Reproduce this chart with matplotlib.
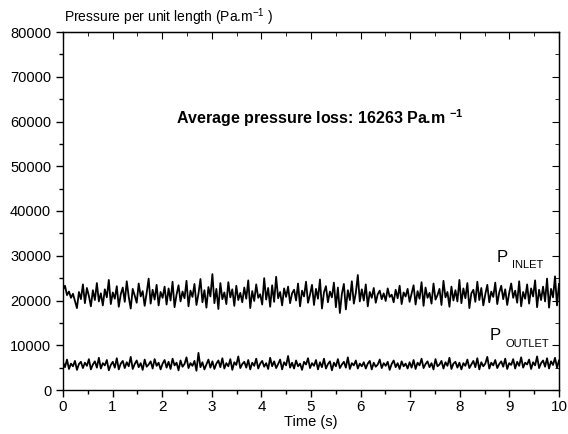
import numpy as np
import matplotlib
matplotlib.use("Agg")
import matplotlib.pyplot as plt

plt.rcParams["font.family"] = ["Liberation Sans", "DejaVu Sans"]
plt.rcParams["mathtext.fontset"] = "custom"
plt.rcParams["mathtext.rm"] = "Liberation Sans"
plt.rcParams["mathtext.bf"] = "Liberation Sans:bold"

# Pressure per unit length (Pa/m), sampled over 10 s
p_inlet = [
    22400, 23300, 21200, 22000, 20600, 21500, 19900, 18300, 21900, 20300, 23600, 19400, 22800, 21000, 18700, 22300, 20100, 23900, 19800, 21600, 18900, 22500, 20700, 24600, 19200,
    21800, 20400, 23200, 18600, 21400, 22900, 19700, 24300, 20800, 18200, 22600, 21100, 19500, 23800, 20900, 22100, 18800, 21700, 24900, 19300, 22400, 20200, 23500, 18900, 21900,
    20600, 23100, 19100, 22700, 20000, 24200, 18500, 21300, 23400, 19800, 22000, 20500, 24400, 18700, 22200, 20800, 23700, 19000, 21500, 24800, 19600, 22300, 18400, 23000, 20900,
    25900, 19400, 22600, 18100, 23900, 20300, 21800, 19200, 24100, 20700, 22500, 18800, 23300, 20100, 21700, 19600, 22900, 20400, 24500, 18300, 22100, 19900, 23600, 20600, 21400,
    19100, 25000, 20200, 22800, 18600, 23400, 19700, 25300, 20500, 21900, 18900, 22700, 20800, 23100, 19400, 21600, 22400, 20000, 23800, 18700, 22200, 20900, 24200, 19500, 21300,
    23500, 19000, 22600, 20400, 24700, 18200, 21800, 23200, 19600, 22000, 20700, 24000, 18500, 22900, 17200, 21500, 23700, 18000, 22300, 20100, 24300, 19300, 21700, 25700, 19800,
    22500, 20000, 23600, 18700, 21900, 20600, 22800, 19500, 21400, 22200, 20300, 21600, 19900, 22700, 20800, 21300, 19600, 22400, 20500, 23300, 19200, 21800, 20900, 22600, 19700,
    21500, 23400, 19100, 22100, 20400, 24100, 18800, 22900, 20600, 21700, 19300, 23800, 20200, 21200, 22600, 19000, 24400, 20700, 21900, 18600, 23100, 20000, 22300, 19800, 24600,
    19400, 22700, 20500, 23900, 18300, 21600, 22400, 19700, 24200, 20100, 22800, 18900, 21400, 23500, 19600, 22000, 20800, 24000, 19200, 21800, 23300, 20300, 22500, 19000, 21700,
    23800, 20600, 22200, 19500, 24300, 18700, 21900, 20400, 23600, 19300, 22700, 20900, 24500, 18500, 22400, 20100, 23100, 19800, 24900, 18400, 22600, 20700, 25400, 18900, 23700,
]
p_outlet = [
    6200, 5100, 6800, 4700, 5900, 5300, 6500, 4500, 5800, 6300, 4900, 6100, 5400, 6900, 4600, 5700, 6400, 5000, 7200, 4800, 6000, 5500, 6700, 4400, 5600,
    6300, 5000, 7100, 4600, 5900, 6500, 4900, 6200, 5300, 7400, 4700, 5800, 6600, 5100, 6000, 4500, 6800, 5200, 5700, 6400, 4800, 6900, 5400, 6100, 4600,
    5900, 6700, 5000, 6300, 4700, 7000, 5500, 6100, 4400, 6600, 5200, 5800, 7300, 4900, 6000, 5400, 6500, 4300, 8300, 5100, 6200, 4600, 5700, 6800, 5000,
    6400, 4700, 5900, 6600, 5100, 7100, 4800, 6000, 5300, 6900, 4500, 6200, 5600, 7500, 4900, 5800, 6300, 5000, 6700, 4600, 6100, 5400, 7000, 4800, 5900,
    6500, 5200, 6000, 4700, 7200, 5300, 6400, 4900, 5800, 6800, 4600, 6200, 5500, 7600, 5000, 6100, 4800, 6600, 5300, 5900, 4500, 6300, 5700, 7100, 4900,
    6000, 5400, 6700, 4600, 6200, 5100, 7000, 4800, 5800, 6400, 4400, 6100, 5300, 6900, 4900, 5700, 6300, 5000, 7300, 4700, 6000, 5500, 6600, 4800, 5900,
    5300, 6200, 4800, 5900, 6500, 4600, 6100, 5200, 5700, 6800, 4900, 6000, 5400, 6300, 4500, 5800, 6600, 5100, 6000, 4700, 6400, 5300, 5900, 4800, 6200,
    5000, 6700, 4700, 6100, 5500, 7000, 4900, 5800, 6400, 5100, 6000, 4600, 6900, 5300, 5700, 6500, 4800, 6200, 5400, 7200, 4700, 5900, 6300, 5000, 6100,
    4600, 6000, 5400, 6800, 4900, 5700, 6500, 5100, 7100, 4600, 6200, 5300, 5900, 7400, 4800, 6100, 5500, 6700, 4900, 5800, 6400, 5200, 7000, 4700, 6000,
    5600, 6900, 4800, 6300, 5400, 7300, 5000, 6100, 5700, 6800, 4700, 6200, 5500, 7500, 4900, 6000, 6600, 5200, 7100, 4800, 6400, 5600, 7200, 5000, 6600,
]
avg_loss = 16263

t_in = np.linspace(0, 10, len(p_inlet))
t_out = np.linspace(0, 10, len(p_outlet))

fig = plt.figure(figsize=(5.68, 4.34), dpi=100)
ax = fig.add_axes([63 / 568, 44 / 434, 496 / 568, 358 / 434])

ax.plot(t_in, p_inlet, color="black", lw=1.3)
ax.plot(t_out, p_outlet, color="black", lw=1.3)

ax.set_xlim(0, 10)
ax.set_ylim(0, 80000)
ax.set_xticks(np.arange(0, 11, 1))
ax.set_xticks(np.arange(0.5, 10, 1), minor=True)
ax.set_yticks(np.arange(0, 80001, 10000))
ax.set_yticks(np.arange(5000, 80000, 10000), minor=True)
ax.tick_params(which="both", direction="out", width=1)
ax.tick_params(axis="y", labelsize=10.5)
ax.tick_params(axis="x", labelsize=11, pad=2)
ax.tick_params(which="major", length=5)
ax.tick_params(which="minor", length=3)
for s in ax.spines.values():
    s.set_linewidth(1)

# mirrored ticks pointing inward on top and right
top = ax.secondary_xaxis("top")
top.set_xticks(np.arange(0, 11, 1))
top.set_xticks(np.arange(0.5, 10, 1), minor=True)
top.tick_params(which="both", direction="in", labeltop=False)
top.tick_params(which="major", length=5)
top.tick_params(which="minor", length=3)
right = ax.secondary_yaxis("right")
right.set_yticks(np.arange(0, 80001, 10000))
right.set_yticks(np.arange(5000, 80000, 10000), minor=True)
right.tick_params(which="both", direction="in", labelright=False)
right.tick_params(which="major", length=5)
right.tick_params(which="minor", length=3)

ax.set_xlabel("Time (s)", fontsize=10.5, labelpad=1)
fig.text(64 / 568, 1 - 17 / 434, r"Pressure per unit length (Pa.m$^{-1}$ )",
         fontsize=10, va="center", ha="left")

ax.text(2.28, 60800, r"Average pressure loss: %d Pa.m $^{\mathbf{-1}}$" % avg_loss,
        fontsize=11.5, fontweight="bold", va="center", ha="left")

ax.text(8.75, 29700, "P", fontsize=12, va="center", ha="left")
ax.text(9.05, 27900, "INLET", fontsize=8, va="center", ha="left")
ax.text(8.61, 12100, "P", fontsize=12, va="center", ha="left")
ax.text(8.93, 10300, "OUTLET", fontsize=8, va="center", ha="left")

fig.savefig("out.png", dpi=100)
